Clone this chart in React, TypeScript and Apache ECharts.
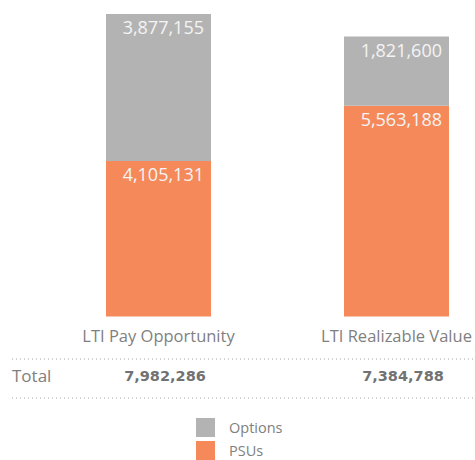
import React, { useEffect, useRef } from "react";
import * as echarts from "echarts";

const categories = ["LTI Pay Opportunity", "LTI Realizable Value"];
const psus = [4105131, 5563188];
const options = [3877155, 1821600];
const totals = [7982286, 7384788];
const seriesNames = ["Options", "PSUs"];

const FONT = "'Open Sans', 'Noto Sans', sans-serif";
const fmt = (v: number) => v.toLocaleString("en-US");

export default function App() {
  const ref = useRef<HTMLDivElement>(null);
  useEffect(() => {
    if (!ref.current) return;
    const chart = echarts.init(ref.current, undefined, { renderer: "svg" });
    const labelStyle = {
      show: true,
      position: "insideTopRight" as const,
      distance: 4,
      padding: [0, 3, 0, 0],
      color: "#f4f4f4",
      fontSize: 18,
      fontFamily: FONT,
      formatter: (p: any) => fmt(p.value),
    };
    const legendBase = {
      orient: "vertical" as const,
      left: 196,
      padding: 0,
      itemWidth: 19,
      itemHeight: 19,
      icon: "rect",
      textStyle: { fontSize: 14.5, color: "#808080", fontFamily: FONT, padding: [0, 0, 0, 9] },
    };
    chart.setOption({
      animation: false,
      textStyle: { fontFamily: FONT },
      grid: { left: 39.5, top: 13.3, width: 476, height: 303.2, containLabel: false },
      legend: [
        { ...legendBase, top: 418, data: [seriesNames[0]] },
        { ...legendBase, top: 441, data: [seriesNames[1]] },
      ],
      xAxis: [
        {
          type: "category",
          data: categories,
          axisLine: { show: false },
          axisTick: { show: false },
          axisLabel: { color: "#7f7f7f", fontSize: 16.5, margin: 10, fontFamily: FONT },
        },
        {
          type: "category",
          data: categories,
          position: "bottom",
          offset: 52,
          axisLine: { show: false },
          axisTick: { show: false },
          axisLabel: {
            color: "#727272",
            fontSize: 14.5,
            fontWeight: "bold",
            margin: 0,
            fontFamily: "'DejaVu Sans', sans-serif",
            padding: [0, 0, 0, 13],
            formatter: (_v: string, i: number) => fmt(totals[i]),
          },
        },
      ],
      yAxis: { type: "value", min: 0, max: 8000000, show: false },
      graphic: [
        {
          type: "line",
          shape: { x1: 12, y1: 359, x2: 475, y2: 359 },
          style: { stroke: "#a6a6a6", lineWidth: 1, lineDash: [1, 3] },
        },
        {
          type: "line",
          shape: { x1: 12, y1: 398, x2: 475, y2: 398 },
          style: { stroke: "#a6a6a6", lineWidth: 1, lineDash: [1, 3] },
        },
        {
          type: "text",
          left: 12,
          top: 367,
          style: { text: "Total", fill: "#808080", fontSize: 17, fontFamily: FONT },
        },
      ],
      series: [
        {
          name: "PSUs",
          type: "bar",
          stack: "lti",
          barWidth: 105,
          data: psus,
          itemStyle: { color: "#f5895a" },
          label: labelStyle,
        },
        {
          name: "Options",
          type: "bar",
          stack: "lti",
          barWidth: 105,
          data: options,
          itemStyle: { color: "#b3b3b3" },
          label: labelStyle,
        },
      ],
    });
    return () => chart.dispose();
  }, []);
  return (
    <div
      style={{
        position: "fixed",
        left: 0,
        top: 0,
        width: 475,
        height: 460,
        overflow: "hidden",
        background: "#fff",
      }}
    >
      <div ref={ref} style={{ width: 520, height: 460 }} />
    </div>
  );
}
